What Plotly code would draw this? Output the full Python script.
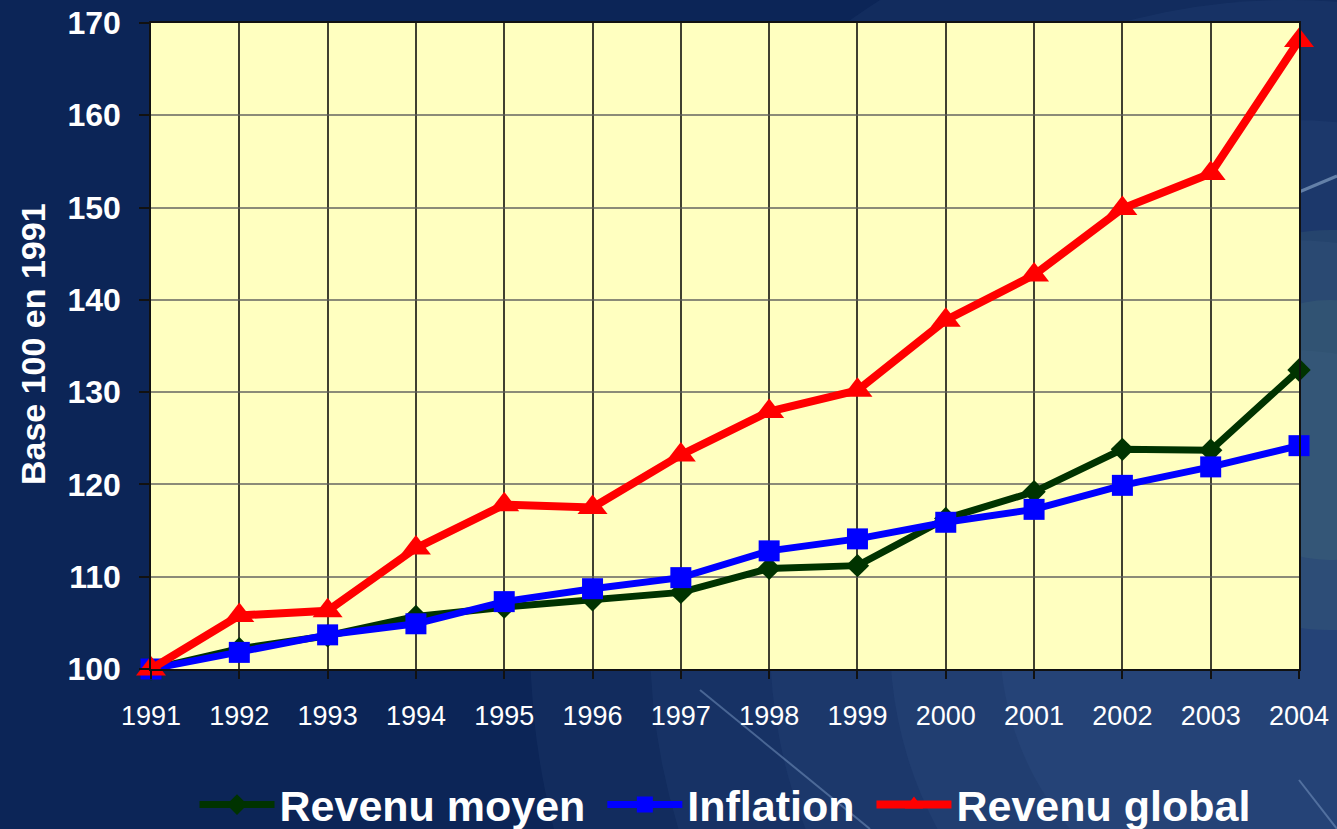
import plotly.graph_objects as go

years = list(range(1991, 2005))
revenu_moyen = [100, 102.2, 103.6, 105.7, 106.7, 107.5, 108.3, 110.9, 111.2, 116.3, 119.2, 123.8, 123.7, 132.4]
inflation = [100, 101.8, 103.7, 104.9, 107.3, 108.7, 109.9, 112.8, 114.1, 115.9, 117.3, 119.9, 121.9, 124.2]
revenu_global = [100, 105.8, 106.3, 113.1, 117.8, 117.5, 123.2, 127.9, 130.2, 137.8, 142.7, 149.9, 153.7, 168.1]
series_names = ["Revenu moyen", "Inflation", "Revenu global"]

FONT = "Arial, Liberation Sans, sans-serif"
W, H = 1337, 829
ML, MR, MT, MB = 151, 38, 23, 160
PW, PH = W - ML - MR, H - MT - MB
PAD = "\u00a0"  # small extra spacing between legend entries

fig = go.Figure()
fig.add_trace(go.Scatter(
    x=years, y=revenu_moyen, name=series_names[0] + PAD, mode="lines+markers",
    line=dict(color="#003300", width=7),
    marker=dict(symbol="diamond", size=18, color="#003300"),
    cliponaxis=False))
fig.add_trace(go.Scatter(
    x=years, y=inflation, name=series_names[1] + PAD, mode="lines+markers",
    line=dict(color="#0000FF", width=7),
    marker=dict(symbol="square", size=21, color="#0000FF"),
    cliponaxis=False))
fig.add_trace(go.Scatter(
    x=years, y=revenu_global, name=series_names[2], mode="lines+markers",
    line=dict(color="#FF0000", width=8),
    marker=dict(symbol="triangle-up", size=26, color="#FF0000"),
    cliponaxis=False))


def px_x(px):
    return (px - ML) / PW


def px_y(py):
    return (H - MB - py) / PH


def glow(cx, cy, r, color):
    return dict(type="circle", xref="paper", yref="paper", layer="below",
                x0=px_x(cx - r), x1=px_x(cx + r), y0=px_y(cy + r), y1=px_y(cy - r),
                fillcolor=color, line=dict(width=0))


bg_shapes = []
for r in (760, 640, 520, 400, 290):
    bg_shapes.append(glow(1290, 640, r, "rgba(95,145,200,0.07)"))
for r in (200, 130):
    bg_shapes.append(glow(1330, 430, r, "rgba(110,160,120,0.12)"))
bg_shapes += [
    dict(type="line", xref="paper", yref="paper", layer="below",
         x0=px_x(700), y0=px_y(690), x1=px_x(870), y1=px_y(829),
         line=dict(color="rgba(150,180,220,0.4)", width=2)),
    dict(type="line", xref="paper", yref="paper", layer="below",
         x0=px_x(1299), y0=px_y(192), x1=px_x(1337), y1=px_y(176),
         line=dict(color="rgba(170,200,230,0.5)", width=3)),
    dict(type="line", xref="paper", yref="paper", layer="below",
         x0=px_x(1299), y0=px_y(780), x1=px_x(1337), y1=px_y(829),
         line=dict(color="rgba(150,180,220,0.4)", width=2)),
    # plot-area fill over the glow
    dict(type="rect", xref="paper", yref="paper", layer="below",
         x0=0, x1=1, y0=0, y1=1, fillcolor="#FFFFC0", line=dict(width=0)),
]

fig.update_layout(
    width=W, height=H,
    margin=dict(l=ML, r=MR, t=MT, b=MB, autoexpand=False),
    paper_bgcolor="#0C2557",
    plot_bgcolor="#FFFFC0",
    font=dict(family=FONT, color="white"),
    showlegend=True,
    legend=dict(orientation="h", x=0.5, xanchor="center", y=-0.21, yanchor="middle",
                font=dict(size=43, color="white", family=FONT, weight="bold"),
                bgcolor="rgba(0,0,0,0)", itemwidth=75, tracegroupgap=0),
    shapes=bg_shapes,
    annotations=[dict(text="<b>Base 100 en 1991</b>", textangle=-90,
                      x=px_x(33), y=0.503, xref="paper", yref="paper",
                      xanchor="center", yanchor="middle",
                      showarrow=False, font=dict(size=34, color="white", family=FONT))],
)

fig.update_xaxes(
    range=[1991, 2004], tickmode="array", tickvals=years, ticktext=[str(y) for y in years],
    showgrid=True, gridcolor="rgba(0,0,0,0.75)", gridwidth=1.5,
    showline=True, linecolor="#111111", linewidth=2, mirror=True,
    ticks="outside", ticklen=8, tickcolor="#111111", tickwidth=1.5,
    tickfont=dict(size=27, color="white", family=FONT),
    ticklabelstandoff=14, zeroline=False, automargin=False)
fig.update_yaxes(
    range=[100, 170], dtick=10, tick0=100,
    showgrid=True, gridcolor="rgba(90,90,90,0.7)", gridwidth=1.5,
    showline=True, linecolor="#111111", linewidth=1.5, mirror=True,
    ticks="outside", ticklen=10, tickcolor="#111111", tickwidth=1.5,
    tickfont=dict(size=32, color="white", family=FONT, weight="bold"),
    ticklabelstandoff=12, zeroline=False, automargin=False)

fig.write_html("out.html")
